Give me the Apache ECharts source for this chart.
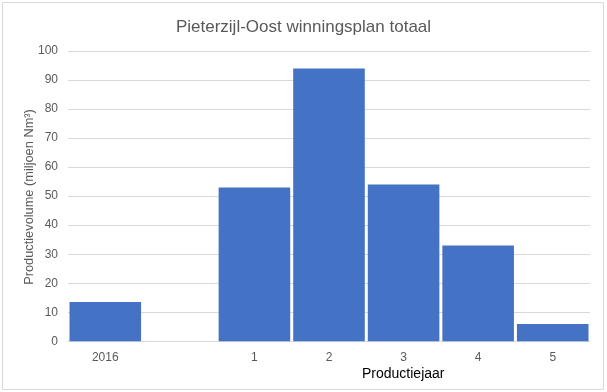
<!DOCTYPE html>
<html><head><meta charset="utf-8">
<script src="https://cdn.jsdelivr.net/npm/echarts@6/dist/echarts.min.js"></script>
<style>html,body{margin:0;padding:0;background:#fff}#c{width:607px;height:392px}</style>
</head><body><div id="c"></div>
<script>
const categories = ['2016', '', '1', '2', '3', '4', '5'];
const values = [13.5, null, 53, 94, 54, 33, 6];
const yTicks = { min: 0, max: 100, interval: 10 };
const titleText = 'Pieterzijl-Oost winningsplan totaal';
const yName = 'Productievolume (miljoen Nm³)';
const xName = 'Productiejaar';

const chart = echarts.init(document.getElementById('c'), null, { renderer: 'canvas' });
const font = 'Liberation Sans, Arial, sans-serif';
chart.setOption({
  animation: false,
  backgroundColor: '#fff',
  title: {
    text: titleText, left: 'center', top: 14,
    textStyle: { fontFamily: font, fontSize: 17, fontWeight: 'normal', color: '#595959' }
  },
  grid: { left: 68, right: 17, top: 51, bottom: 50.7, containLabel: false },
  xAxis: {
    type: 'category', data: categories,
    axisLine: { lineStyle: { color: '#d9d9d9', width: 1 } },
    axisTick: { show: false },
    axisLabel: { color: '#595959', fontFamily: font, fontSize: 12, margin: 10, interval: 0 }
  },
  yAxis: {
    type: 'value', min: yTicks.min, max: yTicks.max, interval: yTicks.interval,
    axisLine: { show: false }, axisTick: { show: false },
    axisLabel: { color: '#595959', fontFamily: font, fontSize: 12, margin: 10 },
    splitLine: { lineStyle: { color: '#d9d9d9', width: 1 } }
  },
  series: [{
    type: 'bar', data: values, barCategoryGap: '4%',
    itemStyle: { color: '#4472c4' }
  }],
  graphic: [
    { type: 'rect', shape: { x: 2.5, y: 2.5, width: 601, height: 387 },
      style: { fill: 'none', stroke: '#d9d9d9', lineWidth: 1 }, silent: true },
    { type: 'text', x: 29, y: 197, rotation: Math.PI / 2,
      style: { text: yName, fill: '#595959', font: '12.8px ' + font, align: 'center', verticalAlign: 'middle' } },
    { type: 'text', left: 362, top: 367,
      style: { text: xName, fill: '#000', font: '14px ' + font } }
  ]
});
</script></body></html>
